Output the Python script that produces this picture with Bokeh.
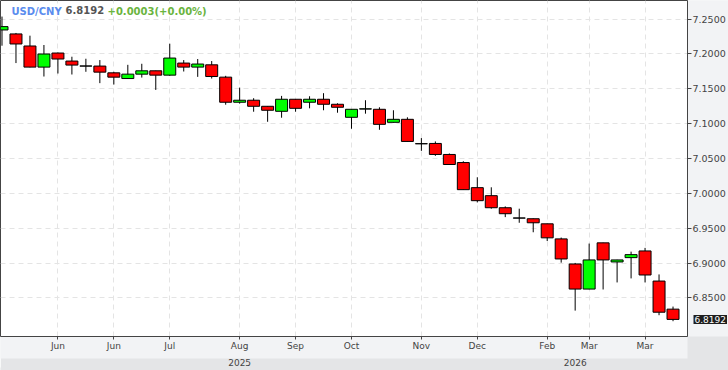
from bokeh.plotting import figure
from bokeh.models import Range1d, FixedTicker, LinearAxis, NumeralTickFormatter, Label, ColumnDataSource
from bokeh.embed import file_html
from bokeh.resources import INLINE

# ---- data (weekly candles) ----
idx = list(range(49))
opens = [7.2344, 7.2287, 7.2114, 7.1811, 7.2013, 7.1898, 7.1826, 7.1826, 7.1729, 7.1647,
         7.1710, 7.1758, 7.1696, 7.1869, 7.1811, 7.1844, 7.1667, 7.1307, 7.1336, 7.1249,
         7.1177, 7.1350, 7.1307, 7.1350, 7.1278, 7.1091, 7.1210, 7.1206, 7.1019, 7.1062,
         7.0713, 7.0716, 7.0558, 7.0442, 7.0082, 6.9967, 6.9794, 6.9647, 6.9636, 6.9563,
         6.9347, 6.8987, 6.8627, 6.9290, 6.9016, 6.9078, 6.9174, 6.8742, 6.8339]
closes = [7.2392, 7.2143, 7.1811, 7.1999, 7.1927, 7.1840, 7.1827, 7.1739, 7.1667, 7.1710,
          7.1758, 7.1696, 7.1941, 7.1811, 7.1855, 7.1676, 7.1307, 7.1336, 7.1249, 7.1192,
          7.1350, 7.1220, 7.1350, 7.1278, 7.1235, 7.1206, 7.1212, 7.0990, 7.1062, 7.0745,
          7.0711, 7.0558, 7.0414, 7.0053, 6.9895, 6.9794, 6.9708, 6.9645, 6.9578, 6.9362,
          6.9059, 6.8627, 6.9045, 6.9045, 6.9045, 6.9121, 6.8829, 6.8295, 6.8192]
highs = [7.2536, 7.2301, 7.2262, 7.2128, 7.2020, 7.1960, 7.1931, 7.1912, 7.1744, 7.1844,
         7.1859, 7.1760, 7.2147, 7.1912, 7.1927, 7.1898, 7.1686, 7.1517, 7.1365, 7.1252,
         7.1398, 7.1352, 7.1393, 7.1437, 7.1292, 7.1208, 7.1336, 7.1235, 7.1192, 7.1091,
         7.0793, 7.0745, 7.0572, 7.0461, 7.0231, 7.0087, 6.9813, 6.9780, 6.9640, 6.9565,
         6.9366, 6.9002, 6.9280, 6.9292, 6.9047, 6.9164, 6.9218, 6.8837, 6.8376]
lows = [7.2118, 7.1869, 7.1808, 7.1676, 7.1719, 7.1705, 7.1744, 7.1581, 7.1561, 7.1645,
        7.1661, 7.1484, 7.1686, 7.1748, 7.1671, 7.1647, 7.1272, 7.1287, 7.1171, 7.1027,
        7.1085, 7.1171, 7.1220, 7.1192, 7.1157, 7.0927, 7.1143, 7.0912, 7.1017, 7.0743,
        7.0610, 7.0538, 7.0412, 7.0051, 6.9870, 6.9780, 6.9659, 6.9578, 6.9442, 6.9316,
        6.9006, 6.8318, 6.8625, 6.8621, 6.8722, 6.8780, 6.8722, 6.8252, 6.8166]

x_tick_pos = [4, 8, 12, 17, 21, 25, 30, 34, 39, 42, 46]
x_tick_labels = ["Jun", "Jun", "Jul", "Aug", "Sep", "Oct", "Nov", "Dec", "Feb", "Mar", "Mar"]
year_pos = [17, 41]
year_labels = ["2025", "2026"]
y_ticks = [6.85, 6.90, 6.95, 7.00, 7.05, 7.10, 7.15, 7.20, 7.25]

symbol = "USD/CNY"
last_price = "6.8192"
change_text = "+0.0003(+0.00%)"

# ---- figure ----
PX = 14.0      # pixels per candle slot
PY = 694.0     # pixels per price unit
X0 = -1.5 / PX
X1 = X0 + 688 / PX
Y1 = 7.25 + 18.5 / PY
Y0 = Y1 - 334.5 / PY

p = figure(width=728, height=370, x_range=Range1d(X0, X1), y_range=Range1d(Y0, Y1),
           output_backend="svg", toolbar_location=None, y_axis_location="right",
           min_border_left=0, min_border_top=0, min_border_right=40, min_border_bottom=0,
           background_fill_color="white", border_fill_color="#e4e5e7",
           outline_line_color="#444444", outline_line_width=1)

# right y axis
yax = p.yaxis[0]
yax.ticker = FixedTicker(ticks=y_ticks)
yax.formatter = NumeralTickFormatter(format="0.0000")
yax.major_tick_out = 4
yax.major_tick_in = 0
yax.minor_tick_line_color = None
yax.major_tick_line_color = "#444444"
yax.axis_line_color = "#444444"
yax.major_label_standoff = 1
yax.major_label_text_font = "DejaVu Sans"
yax.major_label_text_font_size = "9.5px"
yax.major_label_text_color = "#444444"
yax.background_fill_color = "#f2f3f5"

# bottom x axis
xax = p.xaxis[0]
xax.ticker = FixedTicker(ticks=x_tick_pos)
xax.major_label_overrides = {k: v for k, v in zip(x_tick_pos, x_tick_labels)}
xax.major_tick_out = 3
xax.major_tick_in = 0
xax.minor_tick_line_color = None
xax.major_tick_line_color = "#444444"
xax.axis_line_color = "#444444"
xax.major_label_standoff = 1
xax.major_label_text_font = "DejaVu Sans"
xax.major_label_text_font_size = "9px"
xax.major_label_text_color = "#444444"
xax.axis_label = " "
xax.axis_label_text_font_size = "1px"
xax.axis_label_standoff = 1
xax.background_fill_color = "#f2f3f5"

# grids
p.xgrid.ticker = FixedTicker(ticks=x_tick_pos)
p.ygrid.ticker = FixedTicker(ticks=y_ticks)
for g in (p.xgrid[0], p.ygrid[0]):
    g.grid_line_color = "#e4e4e4"
    g.grid_line_dash = "5 4"
    g.grid_line_width = 1

# candles
colors = ["#00ff00" if c >= o else "#ff0000" for o, c in zip(opens, closes)]
src = ColumnDataSource(dict(x=idx, o=opens, c=closes, h=highs, l=lows,
                            top=[max(o, c) for o, c in zip(opens, closes)],
                            bot=[min(o, c) for o, c in zip(opens, closes)],
                            color=colors))
p.segment(x0="x", y0="h", x1="x", y1="l", source=src, line_color="black", line_width=1)
p.vbar(x="x", width=12 / PX, top="top", bottom="bot", source=src,
       fill_color="color", line_color="black", line_width=1)

# title pieces
for txt, off, col in [(symbol, 11, "#5a8cee"), (last_price, 65, "#555555"), (change_text, 107, "#6ab43e")]:
    p.add_layout(Label(x=X0, y=Y1, x_offset=off, y_offset=-5, text=txt, text_color=col,
                       text_font="DejaVu Sans", text_font_style="bold", text_font_size="10px",
                       text_baseline="top"))

# last price tag: lives in the bottom panel (inside the year band) so it is not clipped
tag = Label(x=X1, y=closes[-1], x_offset=6, text=last_price, text_color="white",
            text_font="DejaVu Sans", text_font_size="9px", text_baseline="middle",
            background_fill_color="#1e1e1e", padding=1)
p.add_layout(tag, "below")

# year band axis (labels pulled up into the band)
yr = LinearAxis(ticker=FixedTicker(ticks=year_pos),
                major_label_overrides={k: v for k, v in zip(year_pos, year_labels)},
                major_tick_line_color=None, minor_tick_line_color=None, axis_line_color=None,
                major_tick_out=0, major_tick_in=0, major_label_standoff=-9,
                major_label_text_font="DejaVu Sans", major_label_text_font_size="9px",
                major_label_text_color="#444444", background_fill_color="#e4e5e7",
                axis_label=" ", axis_label_text_font_size="1px", axis_label_standoff=-2)
p.add_layout(yr, "below")

open("out.html", "w").write(file_html(p, INLINE))
